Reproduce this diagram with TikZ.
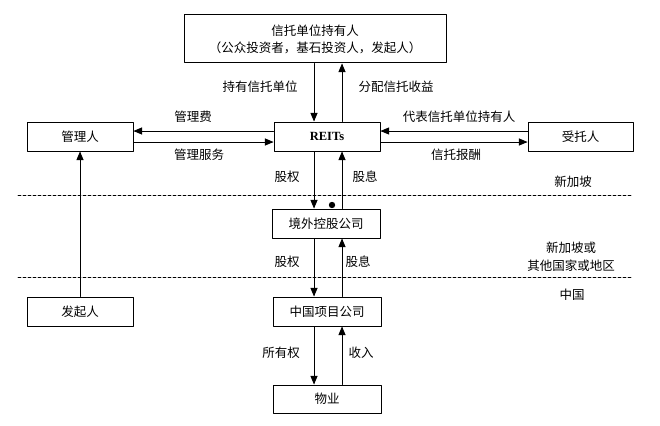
\documentclass[tikz,border=0pt]{standalone}
\usepackage{fontspec}
\setmainfont{Noto Sans CJK SC}
\newfontfamily\latinserif{Liberation Serif}
\usepackage{tikz}
\usetikzlibrary{arrows}

\begin{document}
\begin{tikzpicture}[line cap=round,line join=round,>=triangle 45,x=1pt,y=-1pt,
  box/.style={draw,line width=1pt,inner sep=0pt,minimum height=29pt,font=\fontsize{12.5}{15}\selectfont},
  lbl/.style={inner sep=0pt,font=\fontsize{12.5}{15}\selectfont},
  flow/.style={->,line width=1pt},
  zone/.style={line width=0.7pt,dash pattern=on 3pt off 2pt}]
\useasboundingbox[fill=white] (0,0) rectangle (660,425);
%\draw[help lines,step=20pt] (0,0) grid (660,425);
\coordinate (dn) at (314,0);
\coordinate (up) at (342,0);
% boxes
\node[box,minimum width=262pt,minimum height=48pt,align=center] (holders) at (315,39)
  {信托单位持有人\\[2pt]（公众投资者，基石投资人，发起人）};
\node[box,minimum width=106pt] (reits) at (327,136.5) {\latinserif\bfseries REITs};
\node[box,minimum width=106pt] (manager) at (80,136.5) {管理人};
\node[box,minimum width=105pt] (trustee) at (580.5,136.5) {受托人};
\node[box,minimum width=108pt] (offshore) at (326,223.5) {境外控股公司};
\node[box,minimum width=106pt] (sponsor) at (80,311.5) {发起人};
\node[box,minimum width=108pt] (chinaco) at (327,311.5) {中国项目公司};
\node[box,minimum width=108pt,minimum height=28pt] (property) at (327,399) {物业};
% flows
\draw[flow] (holders.south -| dn) -- (reits.north -| dn);
\draw[flow] (reits.north -| up) -- (holders.south -| up);
\draw[flow] ([yshift=5.5pt]reits.west) -- ([yshift=5.5pt]manager.east);
\draw[flow] ([yshift=-5.5pt]manager.east) -- ([yshift=-5.5pt]reits.west);
\draw[flow] ([yshift=5.5pt]trustee.west) -- ([yshift=5.5pt]reits.east);
\draw[flow] ([yshift=-5.5pt]reits.east) -- ([yshift=-5.5pt]trustee.west);
\draw[flow] (sponsor.north) -- (manager.south);
\draw[flow] (reits.south -| dn) -- (offshore.north -| dn);
\draw[flow] (offshore.north -| up) -- (reits.south -| up);
\draw[flow] (offshore.south -| dn) -- (chinaco.north -| dn);
\draw[flow] (chinaco.north -| up) -- (offshore.south -| up);
\draw[flow] (chinaco.south -| dn) -- (property.north -| dn);
\draw[flow] (property.north -| up) -- (chinaco.south -| up);
% zones
\draw[zone] (18,195) -- (632,195);
\draw[zone] (18,277) -- (632,277);
\fill (332,205) circle (3.2pt);
% labels
\node[lbl] (l1) at (260,87) {持有信托单位};
\node[lbl] (l2) at (396,87) {分配信托收益};
\node[lbl] (l3) at (193,117) {管理费};
\node[lbl] (l4) at (199,155) {管理服务};
\node[lbl] (l5) at (459,117) {代表信托单位持有人};
\node[lbl] (l6) at (456,155) {信托报酬};
\node[lbl] (l7) at (287,177) {股权};
\node[lbl] (l8) at (365,177) {股息};
\node[lbl] (l9) at (287,262) {股权};
\node[lbl] (l10) at (358,262) {股息};
\node[lbl] (l11) at (281,353) {所有权};
\node[lbl] (l12) at (361,353) {收入};
\node[lbl] (s1) at (573,182) {新加坡};
\node[lbl,align=center] (s2) at (571,257) {新加坡或\\[3pt]其他国家或地区};
\node[lbl] (s3) at (572,295) {中国};
\end{tikzpicture}
\end{document}
